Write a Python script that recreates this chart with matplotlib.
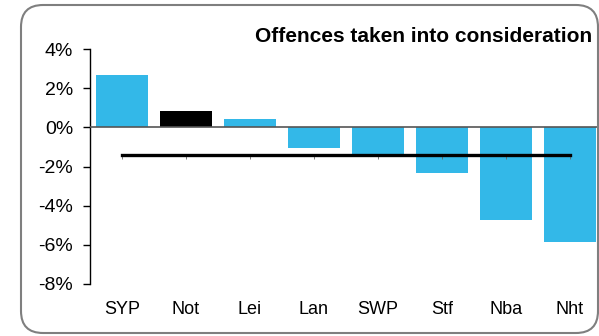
import matplotlib
matplotlib.use("Agg")
import matplotlib.pyplot as plt
from matplotlib.patches import FancyBboxPatch
from matplotlib.transforms import IdentityTransform
import numpy as np

plt.rcParams['font.family'] = ['Liberation Sans', 'DejaVu Sans']

categories = ["SYP", "Not", "Lei", "Lan", "SWP", "Stf", "Nba", "Nht"]
values = [2.67, 0.83, 0.42, -1.03, -1.37, -2.32, -4.72, -5.83]
bar_colors = ["#33b8e8", "#000000", "#33b8e8", "#33b8e8", "#33b8e8", "#33b8e8", "#33b8e8", "#33b8e8"]
average = -1.42
yticks = [-8, -6, -4, -2, 0, 2, 4]
title = "Offences taken into consideration"

fig = plt.figure(figsize=(5.99, 3.36), dpi=100)
ax = fig.add_axes([90/599, 1-284/336, 512/599, 235/336])

x = np.arange(len(categories))
ax.bar(x, values, width=0.81, color=bar_colors, zorder=2)
ax.axhline(0, color="#555555", linewidth=1.2, zorder=3)
ax.plot([x[0], x[-1]], [average, average], color="black", linewidth=2.4, zorder=4)
ax.plot(x, [average - 0.08]*len(x), linestyle="none", marker="|", markersize=3,
        color="#666666", markeredgewidth=0.6, zorder=3.5)

ax.set_xlim(-0.5, len(categories) - 0.5)
ax.set_ylim(-8, 4)
ax.set_yticks(yticks)
ax.set_yticklabels([f"{t}%" for t in yticks])
ax.set_xticks(x)
ax.set_xticklabels(categories)

for s in ["top", "right", "bottom"]:
    ax.spines[s].set_visible(False)
ax.spines["left"].set_color("black")
ax.spines["left"].set_linewidth(1.0)
ax.tick_params(axis="y", length=5, width=1.0, pad=7, labelsize=14, colors="black")
ax.tick_params(axis="x", length=0, pad=12, labelsize=13, colors="black")
ax.patch.set_visible(False)

fig.text(592/599, 1-36/336, title, ha="right", va="center",
         fontsize=15, fontweight="bold")

frame = FancyBboxPatch((21, 3), 577, 328,
                       boxstyle="round,pad=0,rounding_size=22",
                       transform=IdentityTransform(), facecolor="none",
                       edgecolor="#7f7f7f", linewidth=1.5)
fig.add_artist(frame)

fig.savefig("out.png", dpi=100)
